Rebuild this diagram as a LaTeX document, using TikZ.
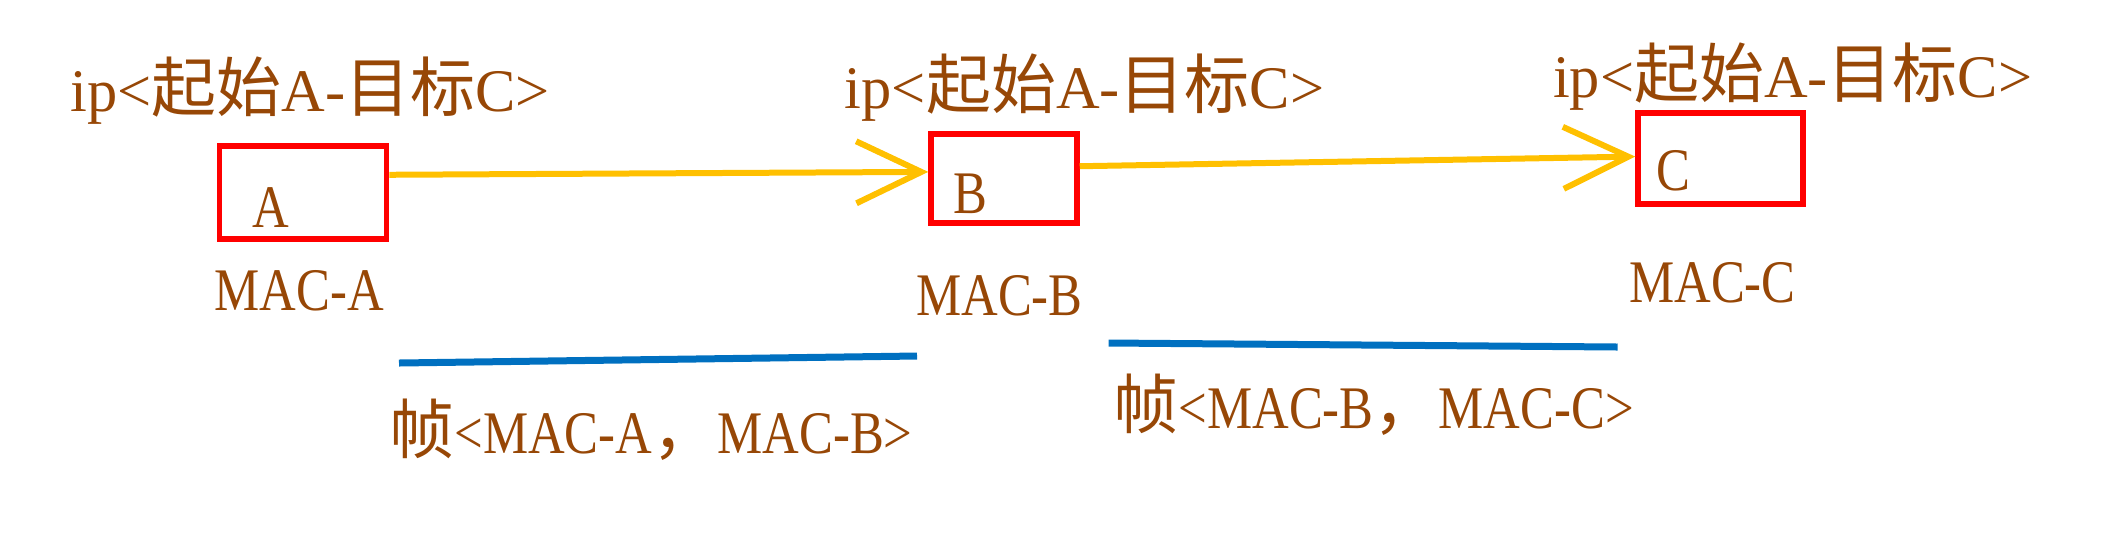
\documentclass[tikz,border=0pt]{standalone}
\usepackage{fontspec}
\setmainfont[FakeStretch=0.84,Scale=0.93]{Liberation Serif}
\newfontfamily\ipfont[FakeStretch=1.0,Scale=0.93]{Liberation Serif}
\newfontfamily\cjkf{Noto Sans CJK SC}
\newcommand{\zh}[1]{{\cjkf #1}}
\usepackage{tikz}
\usetikzlibrary{positioning,arrows.meta,calc}
\definecolor{txtbrown}{HTML}{974706}
\definecolor{ipyellow}{HTML}{FFC000}
\definecolor{frameblue}{HTML}{0070C0}

\begin{document}
\begin{tikzpicture}[x=0.02cm,y=-0.02cm,
    every node/.style={inner sep=0pt,text=txtbrown,font=\fontsize{37}{44}\selectfont},
    iplabel/.style={anchor=base,font=\fontsize{37}{44}\selectfont\ipfont},
    hostbox/.style={draw=red,line width=0.11cm},
    ipline/.style={ipyellow,line width=0.12cm,-{Straight Barb[length=1.3cm,width=1.24cm]}},
    frameline/.style={frameblue,line width=0.14cm}]
    \useasboundingbox (0,0) rectangle (2108,539);
    % hosts
    \node[hostbox,minimum width=3.34cm,minimum height=1.86cm] (boxA) at (303.1,192.5) {};
    \node[hostbox,minimum width=2.92cm,minimum height=1.78cm] (boxB) at (1004,178.5) {};
    \node[hostbox,minimum width=3.3cm,minimum height=1.82cm] (boxC) at (1720.5,158.5) {};
    \node[anchor=base] (ltrA) at (271.2,227) {A};
    \node[anchor=base] (ltrB) at (970.5,213) {B};
    \node[anchor=base] (ltrC) at (1673.5,190) {C};
    \node[anchor=base] (macA) at (299.1,310) {MAC-A};
    \node[anchor=base] (macB) at (999.5,315) {MAC-B};
    \node[anchor=base] (macC) at (1712.5,302) {MAC-C};
    % ip header above each host
    \node[iplabel] (ipA) at (310.3,111) {ip<\zh{起始}A-\zh{目标}C>};
    \node[iplabel] (ipB) at (1084.6,108) {ip<\zh{起始}A-\zh{目标}C>};
    \node[iplabel] (ipC) at (1792.7,97) {ip<\zh{起始}A-\zh{目标}C>};
    % ip packet path
    \draw[ipline] ($(boxA.north east)!0.32!(boxA.south east)$) -- ($(boxB.north west)!0.43!(boxB.south west)$);
    \draw[ipline] ($(boxB.north east)!0.37!(boxB.south east)$) -- ($(boxC.north west)!0.48!(boxC.south west)$);
    % frames per hop
    \draw[frameline] (399,363) -- (917,356);
    \draw[frameline] (1108.7,343) -- (1617.7,347);
    \node[anchor=base] (frAB) at (651,453) {\zh{帧}<MAC-A\zh{，}MAC-B>};
    \node[anchor=base] (frBC) at (1373.7,428) {\zh{帧}<MAC-B\zh{，}MAC-C>};
\end{tikzpicture}
\end{document}
